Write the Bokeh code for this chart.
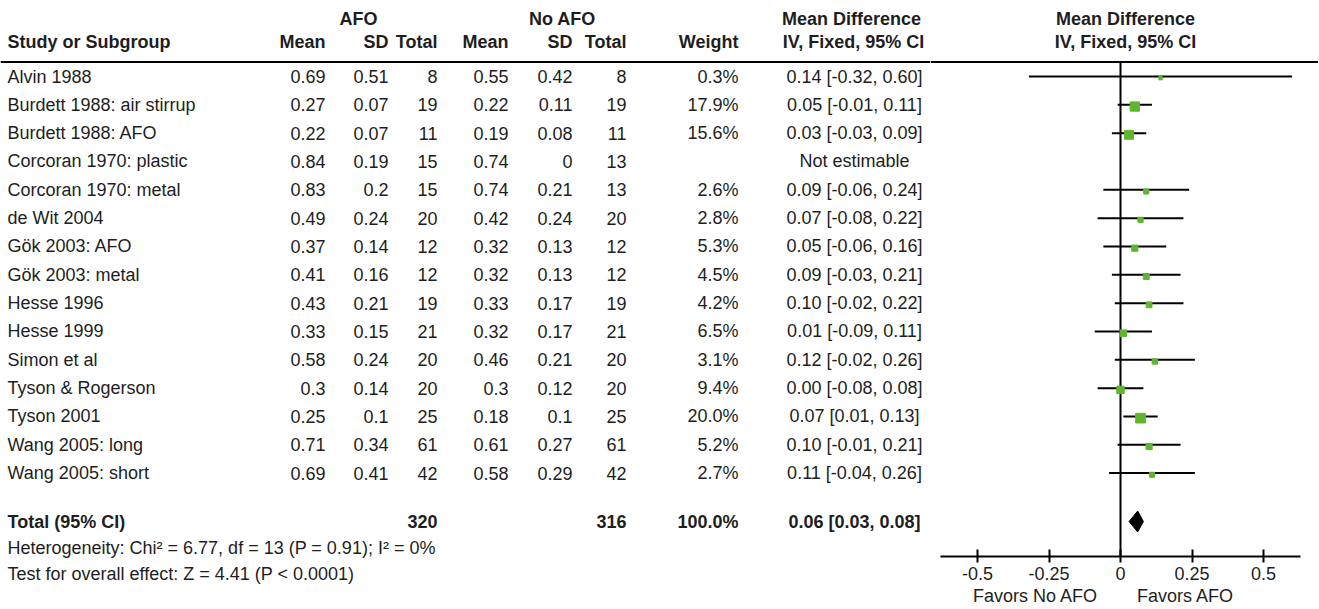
from bokeh.plotting import figure
from bokeh.models import ColumnDataSource, Range1d, Span, FixedTicker, LinearAxis
from bokeh.layouts import row
from bokeh.embed import file_html
from bokeh.resources import INLINE
from bokeh.core.properties import value

# ---------------- data ----------------
studies = ["Alvin 1988", "Burdett 1988: air stirrup", "Burdett 1988: AFO",
           "Corcoran 1970: plastic", "Corcoran 1970: metal", "de Wit 2004",
           "Gök 2003: AFO", "Gök 2003: metal", "Hesse 1996", "Hesse 1999",
           "Simon et al", "Tyson & Rogerson", "Tyson 2001", "Wang 2005: long",
           "Wang 2005: short"]
afo_mean = [0.69, 0.27, 0.22, 0.84, 0.83, 0.49, 0.37, 0.41, 0.43, 0.33, 0.58, 0.3, 0.25, 0.71, 0.69]
afo_sd = [0.51, 0.07, 0.07, 0.19, 0.2, 0.24, 0.14, 0.16, 0.21, 0.15, 0.24, 0.14, 0.1, 0.34, 0.41]
afo_total = [8, 19, 11, 15, 15, 20, 12, 12, 19, 21, 20, 20, 25, 61, 42]
no_mean = [0.55, 0.22, 0.19, 0.74, 0.74, 0.42, 0.32, 0.32, 0.33, 0.32, 0.46, 0.3, 0.18, 0.61, 0.58]
no_sd = [0.42, 0.11, 0.08, 0, 0.21, 0.24, 0.13, 0.13, 0.17, 0.17, 0.21, 0.12, 0.1, 0.27, 0.29]
no_total = [8, 19, 11, 13, 13, 20, 12, 12, 19, 21, 20, 20, 25, 61, 42]
weight = [0.3, 17.9, 15.6, None, 2.6, 2.8, 5.3, 4.5, 4.2, 6.5, 3.1, 9.4, 20.0, 5.2, 2.7]
md = [0.14, 0.05, 0.03, None, 0.09, 0.07, 0.05, 0.09, 0.10, 0.01, 0.12, 0.00, 0.07, 0.10, 0.11]
ci_lo = [-0.32, -0.01, -0.03, None, -0.06, -0.08, -0.06, -0.03, -0.02, -0.09, -0.02, -0.08, 0.01, -0.01, -0.04]
ci_hi = [0.60, 0.11, 0.09, None, 0.24, 0.22, 0.16, 0.21, 0.22, 0.11, 0.26, 0.08, 0.13, 0.21, 0.26]

total_label = "Total (95% CI)"
total_afo = 320
total_no = 316
total_weight = 100.0
total_md = 0.06
total_lo = 0.03
total_hi = 0.08
heterogeneity = "Heterogeneity: Chi² = 6.77, df = 13 (P = 0.91); I² = 0%"
overall = "Test for overall effect: Z = 4.41 (P < 0.0001)"

ticks = [-0.5, -0.25, 0, 0.25, 0.5]
tick_labels = ["-0.5", "-0.25", "0", "0.25", "0.5"]
favors_left = "Favors No AFO"
favors_right = "Favors AFO"

# ---------------- layout / style ----------------
FONT = "Liberation Sans"
FS = "18px"
TXT = "#1e1e1e"
GREEN = "#5fb52f"
ROW0, ROW_H = 76.0, 28.33          # page y of first study row, row pitch
ZERO_PX, PX_PER_UNIT = 1120.0, 286.0
W_TOTAL, H_TOTAL = 1318, 609
SPLIT_X = 930                       # page x where the forest panel starts
AXIS_Y = 556                        # page y of the forest axis line


def ry(page_y):
    return (page_y - ROW0) / ROW_H


def fx(page_x):
    return (page_x - ZERO_PX) / PX_PER_UNIT


def fmt(v):
    return "" if v is None else f"{v:g}"


n = len(studies)
rows = list(range(n))
y_total = ry(521)
y_het = ry(547)
y_test = ry(573)
y_head1, y_head2, y_line = ry(18), ry(41), ry(61.5)

common = dict(height=H_TOTAL, output_backend="svg", toolbar_location=None,
              min_border=0, outline_line_color=None, y_axis_location=None,
              frame_align=False)

# ---------------- table figure ----------------
p1 = figure(width=SPLIT_X, x_range=Range1d(0, SPLIT_X),
            y_range=Range1d(ry(H_TOTAL), ry(0)), x_axis_location=None, **common)
p1.grid.visible = False


def txt(p, xs, ys, texts, align, bold=False):
    src = ColumnDataSource(dict(x=xs, y=ys, t=texts))
    p.text("x", "y", text="t", source=src, text_align=align,
           text_baseline="middle", text_font=value(FONT), text_font_size=FS,
           text_font_style="bold" if bold else "normal", text_color=TXT)


COL_STUDY = 7
cols = [(325, afo_mean), (388, afo_sd), (437, afo_total),
        (508, no_mean), (572, no_sd), (626, no_total)]

txt(p1, [COL_STUDY] * n, rows, studies, "left")
for cx, vals in cols:
    txt(p1, [cx] * n, rows, [fmt(v) for v in vals], "right")
txt(p1, [738] * n, rows, ["" if w is None else f"{w:.1f}%" for w in weight], "right")
ci_text = ["Not estimable" if m is None else f"{m:.2f} [{l:.2f}, {h:.2f}]"
           for m, l, h in zip(md, ci_lo, ci_hi)]
txt(p1, [854] * n, rows, ci_text, "center")

# headers
txt(p1, [358, 562, 851], [y_head1] * 3, ["AFO", "No AFO", "Mean Difference"], "center", bold=True)
txt(p1, [COL_STUDY], [y_head2], ["Study or Subgroup"], "left", bold=True)
txt(p1, [325, 388, 437, 508, 572, 626, 738], [y_head2] * 7,
    ["Mean", "SD", "Total", "Mean", "SD", "Total", "Weight"], "right", bold=True)
txt(p1, [853], [y_head2], ["IV, Fixed, 95% CI"], "center", bold=True)

# total row and footer
txt(p1, [COL_STUDY], [y_total], [total_label], "left", bold=True)
txt(p1, [437, 626, 738], [y_total] * 3,
    [str(total_afo), str(total_no), f"{total_weight:.1f}%"], "right", bold=True)
txt(p1, [854], [y_total], [f"{total_md:.2f} [{total_lo:.2f}, {total_hi:.2f}]"], "center", bold=True)
txt(p1, [COL_STUDY, COL_STUDY], [y_het, y_test], [heterogeneity, overall], "left")

p1.add_layout(Span(location=y_line, dimension="width", line_color="black", line_width=2))

# ---------------- forest figure ----------------
p2 = figure(width=W_TOTAL - SPLIT_X, x_range=Range1d(fx(SPLIT_X), fx(W_TOTAL)),
            y_range=Range1d(ry(AXIS_Y), ry(0)), x_axis_location=None,
            min_border_bottom=H_TOTAL - AXIS_Y, **common)
p2.grid.visible = False
p2.add_layout(Span(location=y_line, dimension="width", line_color="black", line_width=2))

txt(p2, [fx(1125)], [y_head1], ["Mean Difference"], "center", bold=True)
txt(p2, [fx(1125)], [y_head2], ["IV, Fixed, 95% CI"], "center", bold=True)

# zero line
p2.segment(x0=[0], y0=[y_line], x1=[0], y1=[ry(AXIS_Y)], line_color="black", line_width=2)

idx = [i for i in rows if md[i] is not None]
ci_src = ColumnDataSource(dict(
    y=idx, lo=[ci_lo[i] for i in idx], hi=[ci_hi[i] for i in idx],
    md=[md[i] for i in idx], ys=[i + 0.06 for i in idx],
    size=[2.5 + 1.6 * weight[i] ** 0.5 for i in idx]))
p2.segment(x0="lo", y0="y", x1="hi", y1="y", source=ci_src, line_color="black", line_width=2)
p2.scatter(x="md", y="ys", size="size", marker="square", source=ci_src,
           fill_color=GREEN, line_color=GREEN)

h = 0.37
p2.patch(x=[total_lo, total_md, total_hi, total_md],
         y=[y_total, y_total - h, y_total, y_total + h],
         fill_color="black", line_color="black")

# main axis
ax = LinearAxis(ticker=FixedTicker(ticks=ticks),
                major_label_overrides={t: l for t, l in zip(ticks, tick_labels)},
                bounds=(-0.63, 0.63), axis_line_width=2, axis_line_color="black",
                major_tick_line_width=2, major_tick_line_color="black",
                major_tick_in=7, major_tick_out=6, minor_tick_line_color=None,
                major_label_standoff=4, major_label_text_font=FONT,
                major_label_text_font_size=FS, major_label_text_color=TXT)
p2.add_layout(ax, "below")

# second, line-less axis carrying the "Favors" captions
fav_pos = [fx(1035), fx(1185)]
ax2 = LinearAxis(ticker=FixedTicker(ticks=fav_pos),
                 major_label_overrides={fav_pos[0]: favors_left, fav_pos[1]: favors_right},
                 axis_line_color=None, major_tick_line_color=None,
                 major_tick_in=0, major_tick_out=0, minor_tick_line_color=None,
                 major_label_standoff=3, major_label_text_font=FONT,
                 major_label_text_font_size=FS, major_label_text_color=TXT)
p2.add_layout(ax2, "below")

layout = row(p1, p2)
open("out.html", "w").write(file_html(layout, INLINE))
